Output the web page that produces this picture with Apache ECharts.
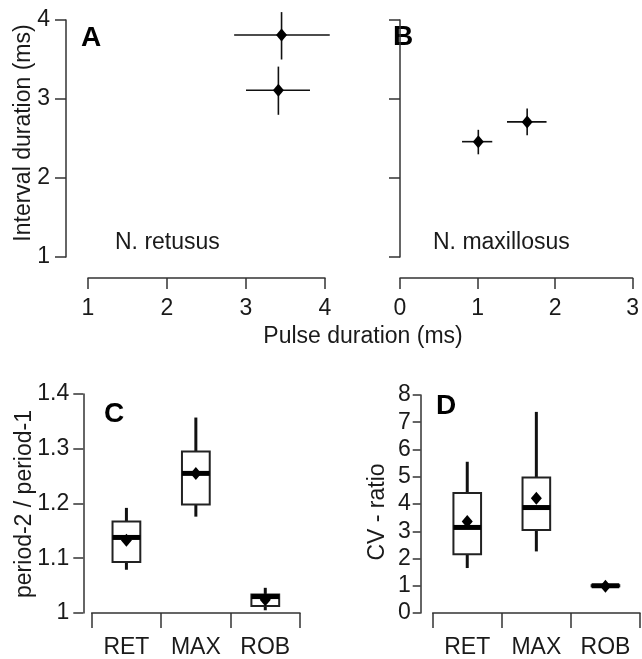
<!DOCTYPE html>
<html><head><meta charset="utf-8">
<script src="https://cdn.jsdelivr.net/npm/echarts@6/dist/echarts.min.js"></script>
<style>html,body{margin:0;padding:0;background:#fff}#c{width:642px;height:659px}</style>
</head><body><div id="c"></div>
<script>
// Panel A: N. retusus (pulse duration vs interval duration)
const aX = [3.45, 3.41];
const aY = [3.81, 3.11];
const aXlo = [2.85, 3.00];
const aXhi = [4.06, 3.81];
const aYlo = [3.50, 2.80];
const aYhi = [4.10, 3.41];
// Panel B: N. maxillosus
const bX = [1.01, 1.64];
const bY = [2.46, 2.71];
const bXlo = [0.80, 1.38];
const bXhi = [1.19, 1.89];
const bYlo = [2.30, 2.54];
const bYhi = [2.61, 2.88];
// Panels C and D: box plots
const groups = ['RET', 'MAX', 'ROB'];
const cMin = [1.079, 1.176, 1.005];
const cQ1 = [1.093, 1.198, 1.013];
const cMed = [1.138, 1.255, 1.030];
const cQ3 = [1.167, 1.295, 1.034];
const cMax = [1.192, 1.357, 1.046];
const cMean = [1.133, 1.255, 1.024];
const dMin = [1.65, 2.26, 0.95];
const dQ1 = [2.16, 3.05, 0.98];
const dMed = [3.14, 3.87, 1.00];
const dQ3 = [4.40, 4.97, 1.02];
const dMax = [5.55, 7.38, 1.05];
const dMean = [3.36, 4.21, 0.98];

const FONT = 'Liberation Sans, Arial, Helvetica, sans-serif';
const AX = '#333';
const FS = 23;
const DIAMOND = [11, 13];

function errData(x, y, xl, xh, yl, yh) {
  return x.map((v, i) => [v, y[i], xl[i], xh[i], yl[i], yh[i]]);
}
function errRender(params, api) {
  const c = api.coord([api.value(0), api.value(1)]);
  const l = api.coord([api.value(2), api.value(1)]);
  const r = api.coord([api.value(3), api.value(1)]);
  const b = api.coord([api.value(0), api.value(4)]);
  const t = api.coord([api.value(0), api.value(5)]);
  const st = { stroke: '#111', lineWidth: 1.6 };
  return { type: 'group', children: [
    { type: 'line', shape: { x1: l[0], y1: c[1], x2: r[0], y2: c[1] }, style: st },
    { type: 'line', shape: { x1: c[0], y1: t[1], x2: c[0], y2: b[1] }, style: st }
  ]};
}
function boxData(mn, q1, md, q3, mx) {
  return mn.map((v, i) => [i, v, q1[i], md[i], q3[i], mx[i]]);
}
function boxRender(params, api) {
  const i = api.value(0);
  const lo = api.coord([i, api.value(1)]);
  const q1 = api.coord([i, api.value(2)]);
  const md = api.coord([i, api.value(3)]);
  const q3 = api.coord([i, api.value(4)]);
  const hi = api.coord([i, api.value(5)]);
  const bw = api.size([1, 0])[0] * 0.4;
  const x = md[0];
  const wst = { stroke: '#111', lineWidth: 3 };
  return { type: 'group', children: [
    { type: 'line', shape: { x1: x, y1: hi[1], x2: x, y2: q3[1] }, style: wst },
    { type: 'line', shape: { x1: x, y1: q1[1], x2: x, y2: lo[1] }, style: wst },
    { type: 'rect', shape: { x: x - bw / 2, y: q3[1], width: bw, height: q1[1] - q3[1] }, style: { fill: '#fff', stroke: '#222', lineWidth: 2 } },
    { type: 'line', shape: { x1: x - bw / 2, y1: md[1], x2: x + bw / 2, y2: md[1] }, style: { stroke: '#000', lineWidth: 5 } }
  ]};
}
function valAxis(gi, min, max, offset, showLabels, margin, tickLen) {
  return {
    gridIndex: gi, type: 'value', min: min, max: max, interval: 1, offset: offset,
    axisLine: { show: true, lineStyle: { color: AX, width: 1.5 } },
    axisTick: { show: true, length: tickLen, lineStyle: { color: AX, width: 1.5 } },
    axisLabel: { show: showLabels, fontSize: FS, fontFamily: FONT, color: '#1a1a1a', margin: margin },
    splitLine: { show: false }
  };
}
function catAxis(gi) {
  return {
    gridIndex: gi, type: 'category', data: groups, boundaryGap: true,
    axisLine: { show: true, lineStyle: { color: AX, width: 1.5 } },
    axisTick: { show: true, length: 15, lineStyle: { color: AX, width: 1.5 } },
    axisLabel: { fontSize: FS, fontFamily: FONT, color: '#1a1a1a', margin: 23 },
    splitLine: { show: false }
  };
}
function txt(x, y, s, opts) {
  return { type: 'text', x: x, y: y, style: Object.assign({ text: s, fontSize: FS, fontFamily: FONT, fill: '#1a1a1a' }, opts || {}) };
}
function vtxt(x, y, s) {
  return { type: 'text', x: x, y: y, rotation: Math.PI / 2, style: { text: s, fontSize: FS, fontFamily: FONT, fill: '#1a1a1a', align: 'center', verticalAlign: 'middle' } };
}
function meanSeries(xi, vals) {
  return { type: 'scatter', xAxisIndex: xi, yAxisIndex: xi, symbol: 'diamond', symbolSize: DIAMOND, itemStyle: { color: '#000', opacity: 1 }, data: vals };
}

const chart = echarts.init(document.getElementById('c'), null, { renderer: 'canvas' });
const yC = valAxis(2, 1, 1.4, 8.4, true, 14, 10); yC.interval = 0.1;
yC.axisLabel.formatter = v => (Math.abs(v - 1) < 1e-9 ? '1' : v.toFixed(1));
const bold = { fontSize: 28, fontWeight: 'bold', fill: '#000', verticalAlign: 'middle' };
chart.setOption({
  animation: false,
  grid: [
    { left: 88, top: 20, width: 237, height: 237 },
    { left: 400, top: 20, width: 236, height: 237 },
    { left: 91.7, top: 394, width: 208.3, height: 219 },
    { left: 432.7, top: 395, width: 207.3, height: 218.3 }
  ],
  xAxis: [
    valAxis(0, 1, 4, 21, true, 19, 11),
    valAxis(1, 0, 3, 21, true, 19, 11),
    catAxis(2),
    catAxis(3)
  ],
  yAxis: [
    valAxis(0, 1, 4, 22, true, 16, 11),
    valAxis(1, 1, 4, 22.3, false, 16, 11),
    yC,
    valAxis(3, 0, 8, 12, true, 10, 8)
  ],
  series: [
    { type: 'custom', xAxisIndex: 0, yAxisIndex: 0, renderItem: errRender, data: errData(aX, aY, aXlo, aXhi, aYlo, aYhi), encode: { x: 0, y: 1 }, clip: false },
    meanSeries(0, aX.map((v, i) => [v, aY[i]])),
    { type: 'custom', xAxisIndex: 1, yAxisIndex: 1, renderItem: errRender, data: errData(bX, bY, bXlo, bXhi, bYlo, bYhi), encode: { x: 0, y: 1 }, clip: false },
    meanSeries(1, bX.map((v, i) => [v, bY[i]])),
    { type: 'custom', xAxisIndex: 2, yAxisIndex: 2, renderItem: boxRender, data: boxData(cMin, cQ1, cMed, cQ3, cMax), encode: { x: 0, y: [1, 2, 3, 4, 5] } },
    meanSeries(2, cMean.map((v, i) => [i, v])),
    { type: 'custom', xAxisIndex: 3, yAxisIndex: 3, renderItem: boxRender, data: boxData(dMin, dQ1, dMed, dQ3, dMax), encode: { x: 0, y: [1, 2, 3, 4, 5] } },
    meanSeries(3, dMean.map((v, i) => [i, v]))
  ],
  graphic: [
    txt(81, 38, 'A', bold),
    txt(393, 37, 'B', bold),
    txt(104, 414, 'C', bold),
    txt(436, 406, 'D', bold),
    txt(115, 243, 'N. retusus', { verticalAlign: 'middle' }),
    txt(433, 243, 'N. maxillosus', { verticalAlign: 'middle' }),
    txt(363, 337, 'Pulse duration (ms)', { align: 'center', verticalAlign: 'middle' }),
    vtxt(24, 133, 'Interval duration (ms)'),
    vtxt(25, 504, 'period-2 / period-1'),
    vtxt(378, 512, 'CV - ratio')
  ]
});
</script></body></html>
